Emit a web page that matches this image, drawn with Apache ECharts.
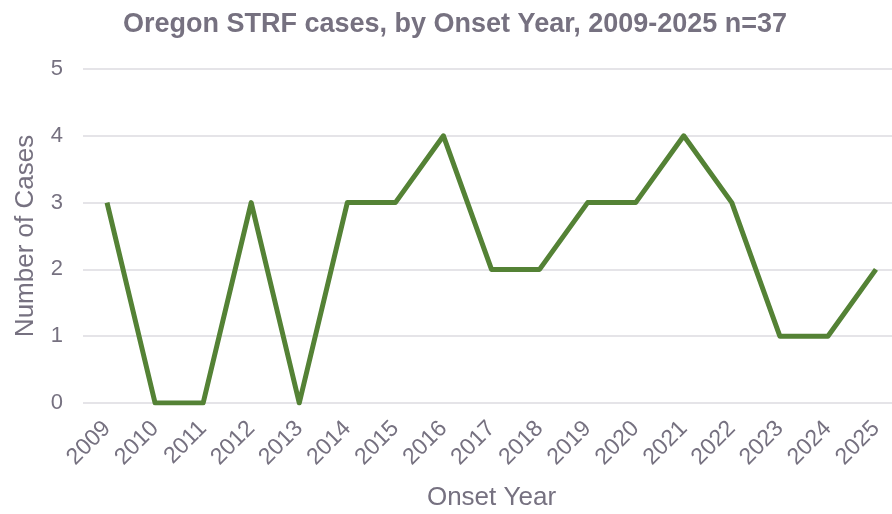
<!DOCTYPE html>
<html>
  <head>
    <meta charset="utf-8">
    <title>Oregon STRF cases</title>
    <script src="https://cdn.jsdelivr.net/npm/echarts@6/dist/echarts.min.js"></script>
    <style>
      html, body { margin: 0; padding: 0; background: #fff; }
      #main { width: 892px; height: 514px; }
    </style>
  </head>
  <body>
    <div id="main"></div>
    <script>
      // onset years and case counts
      const years = ['2009', '2010', '2011', '2012', '2013', '2014', '2015', '2016', '2017',
                     '2018', '2019', '2020', '2021', '2022', '2023', '2024', '2025'];
      const cases = [3, 0, 0, 3, 0, 3, 3, 4, 2, 2, 3, 3, 4, 3, 1, 1, 2];

      const textColor = '#767180';
      const font = '"Liberation Sans", Arial, sans-serif';
      const chart = echarts.init(document.getElementById('main'));

      chart.setOption({
        animation: false,
        title: {
          text: 'Oregon STRF cases, by Onset Year, 2009-2025 n=37',
          left: 118,
          top: 6,
          textStyle: { fontFamily: font, fontSize: 27, fontWeight: 'bold', color: textColor }
        },
        // plot area runs a little past the right edge, like the cropped original
        grid: { left: 83, top: 69, right: -8, bottom: 111, outerBoundsMode: 'none', containLabel: false },
        xAxis: {
          type: 'category',
          data: years,
          boundaryGap: true,
          name: 'Onset Year',
          nameLocation: 'middle',
          nameGap: 82,
          nameTextStyle: { fontFamily: font, fontSize: 26, color: textColor },
          axisLine: { show: false },
          axisTick: { show: false },
          axisLabel: { rotate: 45, margin: 22, fontFamily: font, fontSize: 23, color: textColor }
        },
        yAxis: {
          type: 'value',
          min: 0,
          max: 5,
          interval: 1,
          name: 'Number of Cases',
          nameLocation: 'middle',
          nameGap: 44,
          nameTextStyle: { fontFamily: font, fontSize: 26, color: textColor },
          axisLabel: { margin: 20, fontFamily: font, fontSize: 22, color: textColor },
          splitLine: { lineStyle: { color: '#dcdbe0', width: 1.5 } }
        },
        series: [{
          type: 'line',
          data: cases,
          symbol: 'none',
          lineStyle: { color: '#548235', width: 5, join: 'round' }
        }]
      });
    </script>
  </body>
</html>
